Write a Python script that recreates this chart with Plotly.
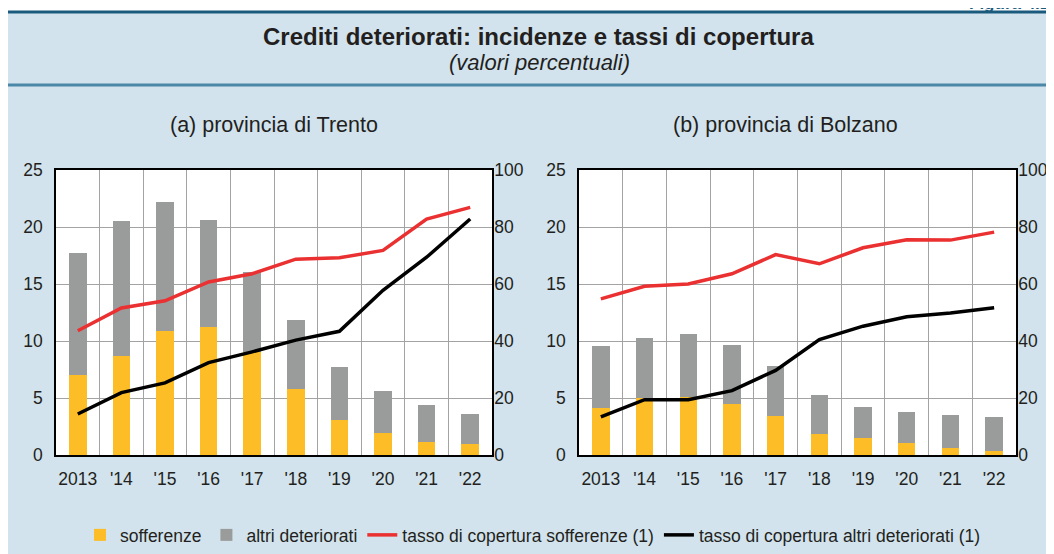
import plotly.graph_objects as go

W, H = 1054, 554
OFF = 8  # margine del body della pagina

anni = ["2013", "'14", "'15", "'16", "'17", "'18", "'19", "'20", "'21", "'22"]

# (a) provincia di Trento
tn_sofferenze = [7.0, 8.7, 10.9, 11.2, 9.0, 5.75, 3.05, 1.9, 1.17, 0.96]
tn_altri = [10.7, 11.85, 11.27, 9.42, 7.07, 6.12, 4.68, 3.73, 3.21, 2.66]
tn_cop_soff = [43.6, 51.6, 54.1, 60.7, 63.6, 68.7, 69.2, 71.8, 82.8, 86.9]
tn_cop_altri = [14.4, 21.9, 25.3, 32.4, 36.2, 40.3, 43.4, 57.8, 69.4, 82.8]

# (b) provincia di Bolzano
bz_sofferenze = [4.12, 5.0, 5.06, 4.48, 3.39, 1.86, 1.53, 1.03, 0.65, 0.35]
bz_altri = [5.42, 5.28, 5.54, 5.21, 4.44, 3.44, 2.65, 2.71, 2.85, 2.95]
bz_cop_soff = [54.8, 59.2, 60.0, 63.6, 70.3, 67.1, 72.7, 75.5, 75.4, 78.2]
bz_cop_altri = [13.4, 19.4, 19.4, 22.6, 29.7, 40.5, 45.2, 48.5, 49.8, 51.7]

GIALLO = "#fcbd26"
GRIGIO = "#9a9c9c"
ROSSO = "#ea3030"
NERO = "#000000"
BLU_SFONDO = "#d2e3ed"
FONT = "Liberation Sans, Arial, sans-serif"
TXT = "#231f20"

# posizioni in pixel della pagina -> coordinate paper
def px_x(v):
    return (v - OFF) / W

def px_y(v):
    return 1 - (v - OFF) / H

fig = go.Figure()

pannelli = [
    ("x", "y", "y2", tn_sofferenze, tn_altri, tn_cop_soff, tn_cop_altri, True),
    ("x2", "y3", "y4", bz_sofferenze, bz_altri, bz_cop_soff, bz_cop_altri, False),
]
for xa, ya, ya2, soff, altri, cs, ca, leg in pannelli:
    fig.add_trace(go.Bar(x=anni, y=soff, name="sofferenze", marker_color=GIALLO,
                         marker_line_width=0, xaxis=xa, yaxis=ya, showlegend=leg))
    fig.add_trace(go.Bar(x=anni, y=altri, name="altri deteriorati", marker_color=GRIGIO,
                         marker_line_width=0, xaxis=xa, yaxis=ya, showlegend=leg))
    fig.add_trace(go.Scatter(x=anni, y=cs, name="tasso di copertura sofferenze (1)",
                             mode="lines", line=dict(color=ROSSO, width=3.5),
                             xaxis=xa, yaxis=ya2, showlegend=leg))
    fig.add_trace(go.Scatter(x=anni, y=ca, name="tasso di copertura altri deteriorati (1)",
                             mode="lines", line=dict(color=NERO, width=3.5),
                             xaxis=xa, yaxis=ya2, showlegend=leg))

tick_font = dict(family=FONT, size=17.5, color=TXT)
top, bottom = px_y(170), px_y(455)

def x_axis(x0, x1, anchor):
    return dict(domain=[px_x(x0), px_x(x1)], anchor=anchor, type="category",
                tickson="boundaries", showgrid=True, gridcolor="#a3a3a3", gridwidth=1,
                showline=True, linecolor="#000000", linewidth=1.5, mirror=True,
                ticks="", tickangle=0, ticklabelstandoff=7, tickfont=tick_font,
                automargin=False, fixedrange=True)

def y_axis(anchor, rng, dtick, side="left", overlaying=None):
    d = dict(domain=[bottom, top], anchor=anchor, range=rng, dtick=dtick, side=side,
             showline=True, linecolor="#000000", linewidth=1.5, ticks="",
             tickfont=tick_font, zeroline=False, automargin=False, fixedrange=True,
             showgrid=side == "left", gridcolor="#a3a3a3", gridwidth=1,
             ticklabelstandoff=8 if side == "left" else -3)
    if overlaying:
        d["overlaying"] = overlaying
    return d

fig.update_layout(
    xaxis=x_axis(56, 492, "y"),
    yaxis=y_axis("x", [0, 25], 5),
    yaxis2=y_axis("x", [0, 100], 20, side="right", overlaying="y"),
    xaxis2=x_axis(579, 1016, "y3"),
    yaxis3=y_axis("x2", [0, 25], 5),
    yaxis4=y_axis("x2", [0, 100], 20, side="right", overlaying="y3"),
)

fig.update_layout(
    width=W, height=H,
    barmode="stack", bargap=0.6,
    paper_bgcolor=BLU_SFONDO, plot_bgcolor="#ffffff",
    margin=dict(l=0, r=0, t=0, b=0),
    font=dict(family=FONT, color=TXT),
    legend=dict(orientation="h", x=px_x(533), xanchor="center", y=px_y(535), yanchor="middle",
                bgcolor="rgba(0,0,0,0)", font=dict(family=FONT, size=17.5, color=TXT),
                itemwidth=30, tracegroupgap=0, traceorder="normal"),
    shapes=[
        dict(type="rect", xref="paper", yref="paper", x0=0, x1=1, y0=px_y(11), y1=1,
             fillcolor="#ffffff", line_width=0),
        dict(type="line", xref="paper", yref="paper", x0=0, x1=1, y0=px_y(12), y1=px_y(12),
             line=dict(color="#1a5b7d", width=3)),
        dict(type="line", xref="paper", yref="paper", x0=0, x1=1, y0=px_y(85), y1=px_y(85),
             line=dict(color="#4b87a6", width=3)),
    ],
    annotations=[
        dict(text="<b>Figura 4.1</b>", xref="paper", yref="paper", x=px_x(968), y=px_y(14),
             xanchor="left", yanchor="bottom", showarrow=False, borderpad=0,
             font=dict(family=FONT, size=17, color="#1a5b7d")),
        dict(text="<b>Crediti deteriorati: incidenze e tassi di copertura</b>", xref="paper",
             yref="paper", x=px_x(538), y=px_y(37), xanchor="center", yanchor="middle",
             showarrow=False, font=dict(family=FONT, size=24, color=TXT)),
        dict(text="<i>(valori percentuali)</i>", xref="paper", yref="paper", x=px_x(539),
             y=px_y(62), xanchor="center", yanchor="middle", showarrow=False,
             font=dict(family=FONT, size=22, color=TXT)),
        dict(text="(a) provincia di Trento", xref="paper", yref="paper", x=px_x(274),
             y=px_y(125), xanchor="center", yanchor="middle", showarrow=False,
             font=dict(family=FONT, size=21.5, color=TXT)),
        dict(text="(b) provincia di Bolzano", xref="paper", yref="paper", x=px_x(785),
             y=px_y(125), xanchor="center", yanchor="middle", showarrow=False,
             font=dict(family=FONT, size=21.5, color=TXT)),
    ],
)

fig.write_html("out.html")
